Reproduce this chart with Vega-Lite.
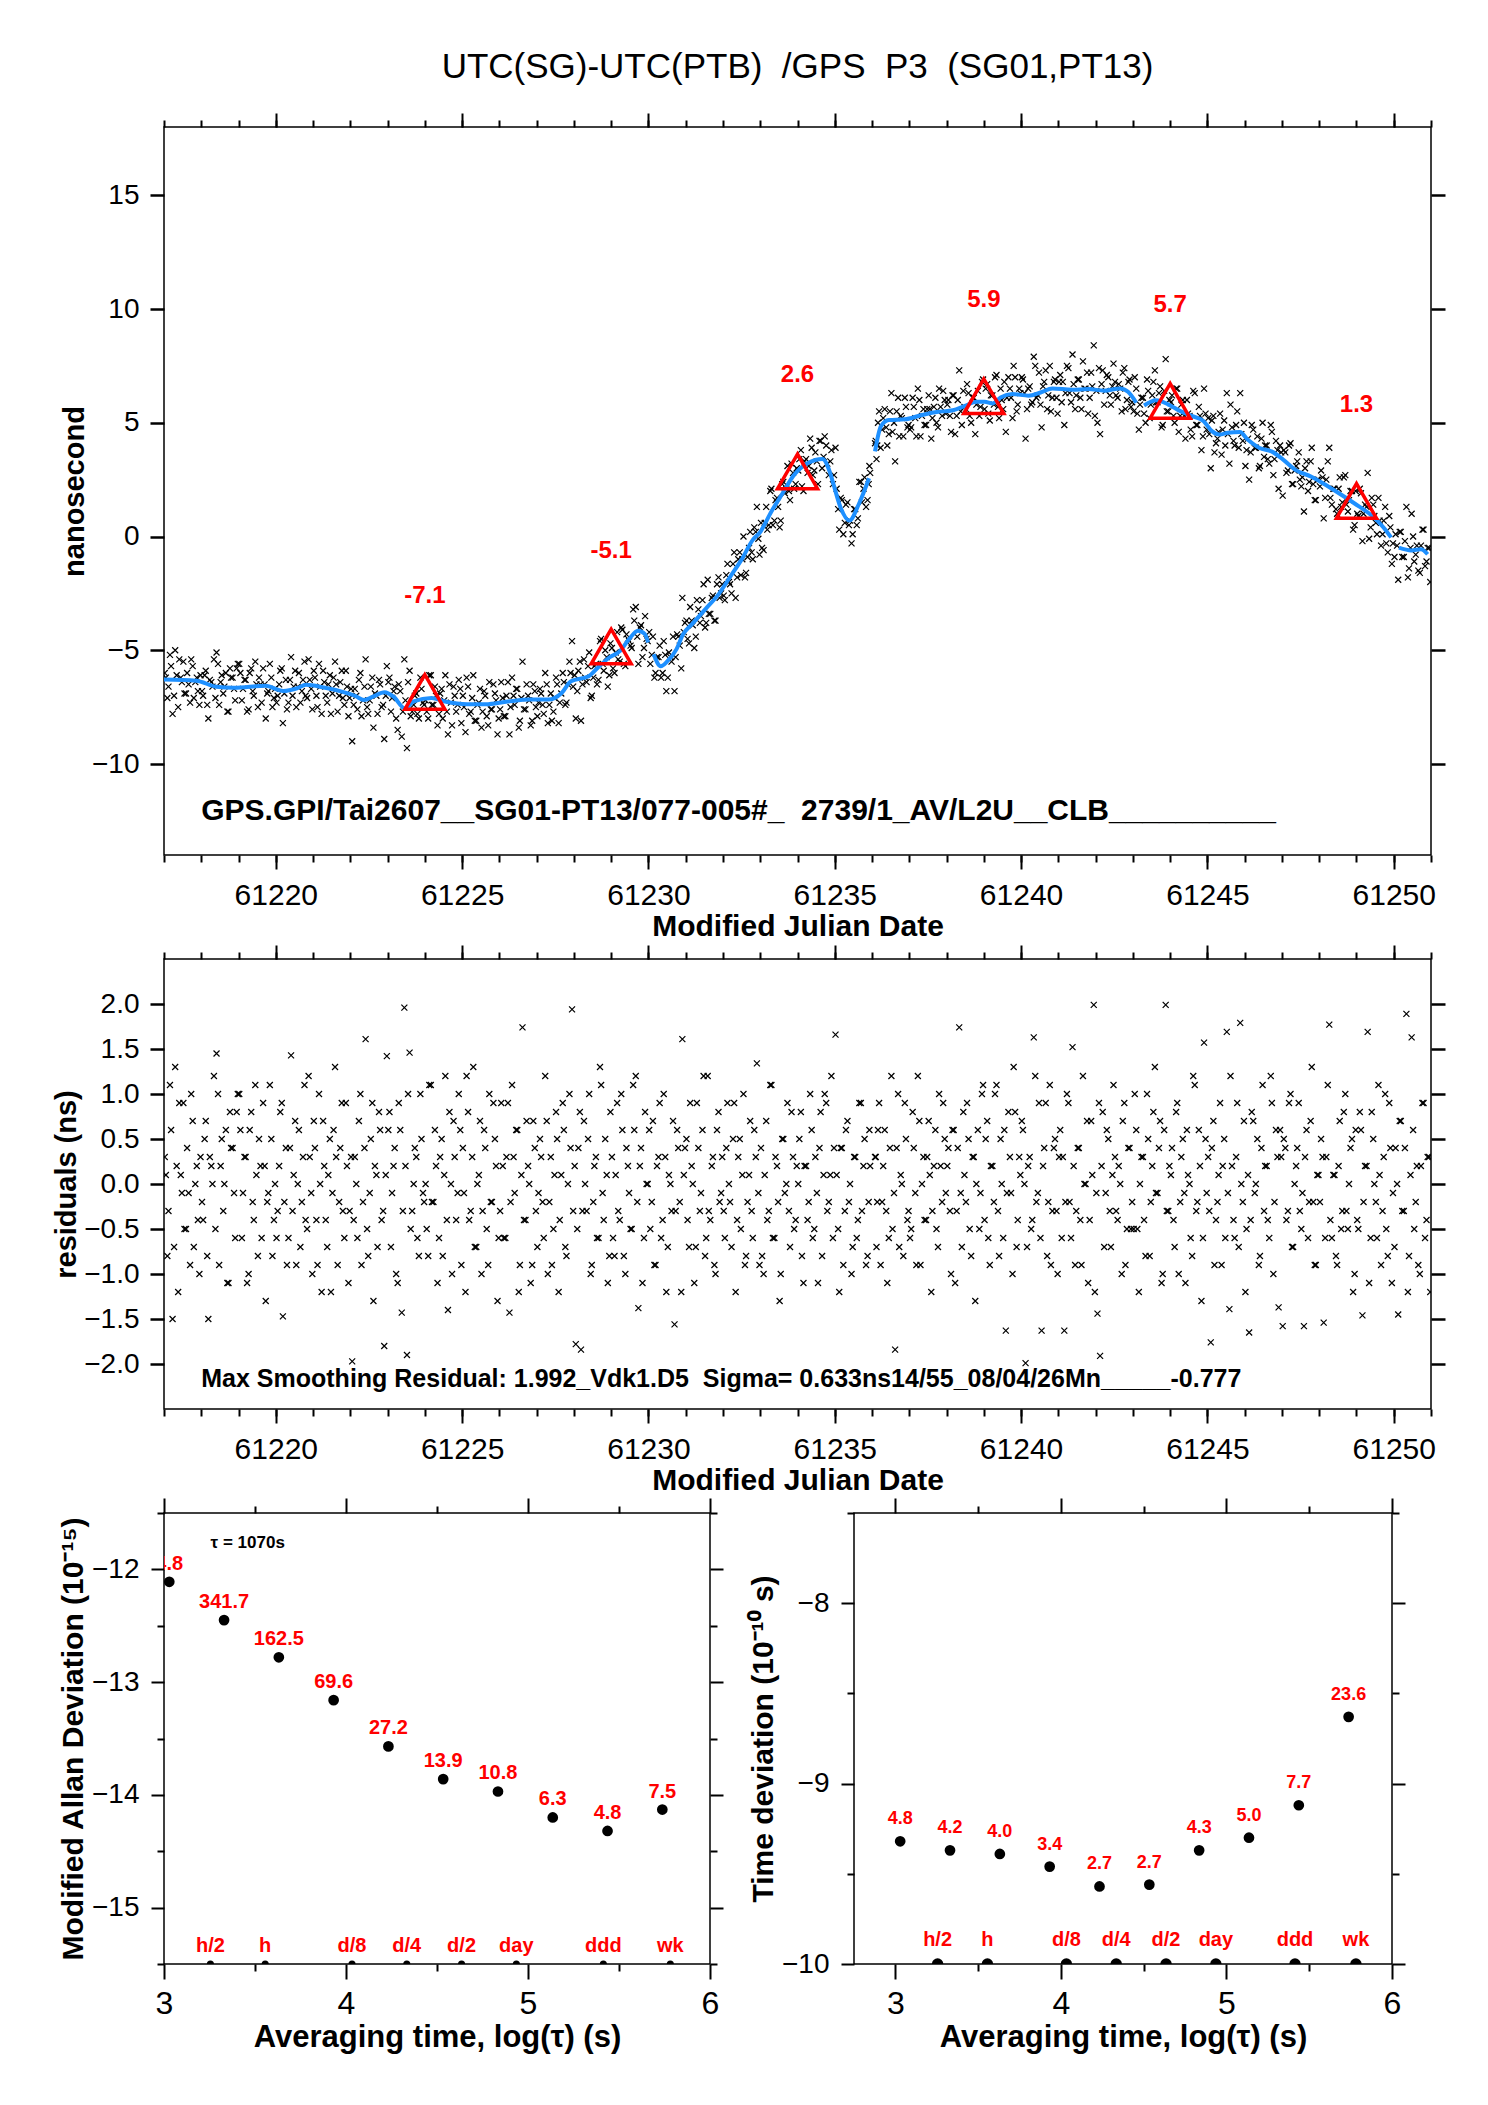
{
  "$schema": "https://vega.github.io/schema/vega-lite/v6.json",
  "background": "white",
  "padding": {"left": 51, "top": 49, "right": 10, "bottom": 10},
  "bounds": "flush",
  "spacing": 104,
  "config": {
    "font": "Liberation Sans",
    "view": {"stroke": "black", "strokeWidth": 1.5},
    "axis": {"grid": false, "domain": false, "tickColor": "black", "tickWidth": 2, "labelColor": "black", "labelFont": "Liberation Sans", "labelFontWeight": "normal", "titleFont": "Liberation Sans", "titleFontWeight": "bold", "titleColor": "black", "labelOverlap": false, "labelFlush": false, "labelBound": false},
    "title": {"font": "Liberation Sans", "color": "black"}
  },
  "datasets": {
    "pts": [
      {"t":61217.02,"v":-6.0,"r":0.3},{"t":61217.09,"v":-7.1,"r":-0.8},{"t":61217.16,"v":-5.2,"r":1.1},{"t":61217.23,"v":-7.8,"r":-1.5},{"t":61217.30,"v":-5.0,"r":1.3},{"t":61217.38,"v":-7.5,"r":-1.2},{"t":61217.45,"v":-6.2,"r":0.1},{"t":61217.52,"v":-5.5,"r":0.9},{"t":61217.59,"v":-6.9,"r":-0.5},{"t":61217.66,"v":-6.5,"r":-0.1},{"t":61217.73,"v":-5.4,"r":1.0},{"t":61217.80,"v":-7.1,"r":-0.7},{"t":61217.88,"v":-6.2,"r":0.2},{"t":61217.95,"v":-7.4,"r":-1.0},
      {"t":61218.05,"v":-7.0,"r":-0.4},{"t":61218.12,"v":-5.9,"r":0.7},{"t":61218.19,"v":-8.0,"r":-1.5},{"t":61218.27,"v":-6.4,"r":0.2},{"t":61218.34,"v":-5.4,"r":1.2},{"t":61218.41,"v":-5.1,"r":1.45},{"t":61218.48,"v":-7.4,"r":-0.9},{"t":61218.55,"v":-6.1,"r":0.5},{"t":61218.62,"v":-6.6,"r":0.0},{"t":61218.70,"v":-7.7,"r":-1.1},{"t":61218.77,"v":-5.8,"r":0.8},{"t":61218.84,"v":-6.2,"r":0.4},{"t":61218.91,"v":-7.2,"r":-0.6},{"t":61218.98,"v":-5.6,"r":1.0},
      {"t":61219.02,"v":-5.6,"r":1.0},{"t":61219.09,"v":-7.2,"r":-0.6},{"t":61219.16,"v":-6.3,"r":0.3},{"t":61219.23,"v":-7.7,"r":-1.1},{"t":61219.30,"v":-6.0,"r":0.6},{"t":61219.38,"v":-6.8,"r":-0.2},{"t":61219.45,"v":-5.5,"r":1.1},{"t":61219.52,"v":-7.5,"r":-0.8},{"t":61219.59,"v":-6.5,"r":0.2},{"t":61219.66,"v":-5.8,"r":0.9},{"t":61219.73,"v":-8.0,"r":-1.3},{"t":61219.80,"v":-6.8,"r":-0.1},{"t":61219.88,"v":-6.2,"r":0.5},{"t":61219.95,"v":-7.1,"r":-0.4},
      {"t":61220.05,"v":-7.0,"r":-0.3},{"t":61220.12,"v":-5.9,"r":0.8},{"t":61220.19,"v":-8.2,"r":-1.47},{"t":61220.27,"v":-6.3,"r":0.4},{"t":61220.34,"v":-7.3,"r":-0.6},{"t":61220.41,"v":-5.3,"r":1.43},{"t":61220.48,"v":-6.6,"r":0.1},{"t":61220.55,"v":-7.5,"r":-0.9},{"t":61220.62,"v":-6.0,"r":0.6},{"t":61220.70,"v":-6.8,"r":-0.2},{"t":61220.77,"v":-5.5,"r":1.1},{"t":61220.84,"v":-7.1,"r":-0.5},{"t":61220.91,"v":-6.3,"r":0.3},{"t":61220.98,"v":-7.6,"r":-1.0},
      {"t":61221.02,"v":-5.9,"r":0.7},{"t":61221.09,"v":-7.0,"r":-0.4},{"t":61221.16,"v":-5.6,"r":1.0},{"t":61221.23,"v":-7.8,"r":-1.2},{"t":61221.30,"v":-6.4,"r":0.2},{"t":61221.38,"v":-7.3,"r":-0.7},{"t":61221.45,"v":-6.1,"r":0.5},{"t":61221.52,"v":-6.9,"r":-0.1},{"t":61221.59,"v":-5.5,"r":1.3},{"t":61221.66,"v":-7.7,"r":-0.9},{"t":61221.73,"v":-6.4,"r":0.4},{"t":61221.80,"v":-7.1,"r":-0.3},{"t":61221.88,"v":-5.9,"r":0.9},{"t":61221.95,"v":-7.9,"r":-1.1},
      {"t":61222.05,"v":-9.0,"r":-1.97},{"t":61222.12,"v":-6.7,"r":0.3},{"t":61222.19,"v":-7.6,"r":-0.6},{"t":61222.27,"v":-6.0,"r":1.0},{"t":61222.34,"v":-7.2,"r":-0.2},{"t":61222.41,"v":-5.4,"r":1.61},{"t":61222.48,"v":-7.8,"r":-0.8},{"t":61222.55,"v":-6.6,"r":0.5},{"t":61222.62,"v":-8.4,"r":-1.3},{"t":61222.70,"v":-7.0,"r":0.1},{"t":61222.77,"v":-6.3,"r":0.8},{"t":61222.84,"v":-7.5,"r":-0.4},{"t":61222.91,"v":-8.9,"r":-1.8},{"t":61222.98,"v":-5.7,"r":1.42},
      {"t":61223.02,"v":-6.4,"r":0.6},{"t":61223.09,"v":-7.7,"r":-0.7},{"t":61223.16,"v":-6.8,"r":0.2},{"t":61223.23,"v":-8.0,"r":-1.0},{"t":61223.30,"v":-6.5,"r":0.9},{"t":61223.38,"v":-8.8,"r":-1.43},{"t":61223.45,"v":-5.4,"r":1.96},{"t":61223.52,"v":-9.3,"r":-1.9},{"t":61223.59,"v":-5.9,"r":1.46},{"t":61223.66,"v":-7.7,"r":-0.3},{"t":61223.73,"v":-7.0,"r":0.4},{"t":61223.80,"v":-7.8,"r":-0.6},{"t":61223.88,"v":-6.2,"r":1.0},{"t":61223.95,"v":-7.3,"r":-0.1},
      {"t":61224.05,"v":-7.7,"r":-0.5},{"t":61224.12,"v":-6.1,"r":1.1},{"t":61224.19,"v":-7.4,"r":-0.2},{"t":61224.27,"v":-6.6,"r":0.6},{"t":61224.34,"v":-8.3,"r":-1.1},{"t":61224.41,"v":-6.9,"r":0.3},{"t":61224.48,"v":-8.0,"r":-0.8},{"t":61224.55,"v":-6.1,"r":1.2},{"t":61224.62,"v":-8.7,"r":-1.4},{"t":61224.70,"v":-7.3,"r":0.0},{"t":61224.77,"v":-6.6,"r":0.7},{"t":61224.84,"v":-7.7,"r":-0.4},{"t":61224.91,"v":-6.3,"r":1.0},{"t":61224.98,"v":-8.2,"r":-0.9},
      {"t":61225.02,"v":-7.0,"r":0.4},{"t":61225.09,"v":-8.6,"r":-1.2},{"t":61225.16,"v":-6.6,"r":0.8},{"t":61225.23,"v":-7.7,"r":-0.3},{"t":61225.30,"v":-6.1,"r":1.3},{"t":61225.38,"v":-8.1,"r":-0.7},{"t":61225.45,"v":-7.3,"r":0.1},{"t":61225.52,"v":-8.4,"r":-1.0},{"t":61225.59,"v":-6.8,"r":0.6},{"t":61225.66,"v":-7.9,"r":-0.5},{"t":61225.73,"v":-6.4,"r":1.0},{"t":61225.80,"v":-7.6,"r":-0.2},{"t":61225.88,"v":-6.9,"r":0.5},{"t":61225.95,"v":-8.7,"r":-1.3},
      {"t":61226.05,"v":-6.4,"r":0.9},{"t":61226.12,"v":-7.9,"r":-0.6},{"t":61226.19,"v":-7.0,"r":0.3},{"t":61226.27,"v":-8.7,"r":-1.43},{"t":61226.34,"v":-6.2,"r":1.1},{"t":61226.41,"v":-7.4,"r":-0.1},{"t":61226.48,"v":-6.7,"r":0.6},{"t":61226.55,"v":-8.1,"r":-0.9},{"t":61226.62,"v":-5.5,"r":1.74},{"t":61226.70,"v":-7.6,"r":-0.4},{"t":61226.77,"v":-7.0,"r":0.2},{"t":61226.84,"v":-8.3,"r":-1.1},{"t":61226.91,"v":-6.5,"r":0.7},{"t":61226.98,"v":-7.5,"r":-0.3},
      {"t":61227.02,"v":-7.9,"r":-0.7},{"t":61227.09,"v":-6.7,"r":0.5},{"t":61227.16,"v":-7.4,"r":-0.2},{"t":61227.23,"v":-6.0,"r":1.2},{"t":61227.30,"v":-8.2,"r":-1.0},{"t":61227.38,"v":-6.9,"r":0.3},{"t":61227.45,"v":-7.7,"r":-0.5},{"t":61227.52,"v":-6.2,"r":0.8},{"t":61227.59,"v":-8.2,"r":-1.2},{"t":61227.66,"v":-6.9,"r":0.1},{"t":61227.73,"v":-6.4,"r":0.6},{"t":61227.80,"v":-7.3,"r":-0.8},{"t":61227.88,"v":-5.5,"r":1.0},{"t":61227.95,"v":-4.6,"r":1.94},
      {"t":61228.05,"v":-8.0,"r":-1.78},{"t":61228.12,"v":-5.9,"r":0.4},{"t":61228.19,"v":-8.1,"r":-1.84},{"t":61228.27,"v":-5.4,"r":0.7},{"t":61228.34,"v":-6.4,"r":-0.3},{"t":61228.41,"v":-5.1,"r":1.0},{"t":61228.48,"v":-7.0,"r":-0.9},{"t":61228.55,"v":-5.7,"r":0.2},{"t":61228.62,"v":-6.5,"r":-0.6},{"t":61228.70,"v":-4.6,"r":1.3},{"t":61228.77,"v":-5.6,"r":-0.1},{"t":61228.84,"v":-5.0,"r":0.5},{"t":61228.91,"v":-6.6,"r":-1.1},{"t":61228.98,"v":-4.7,"r":0.8},
      {"t":61229.02,"v":-4.9,"r":0.3},{"t":61229.09,"v":-6.0,"r":-0.8},{"t":61229.16,"v":-4.2,"r":0.9},{"t":61229.23,"v":-5.5,"r":-0.4},{"t":61229.30,"v":-4.1,"r":0.6},{"t":61229.38,"v":-5.7,"r":-1.0},{"t":61229.45,"v":-4.5,"r":0.2},{"t":61229.52,"v":-4.8,"r":-0.5},{"t":61229.59,"v":-3.2,"r":1.1},{"t":61229.66,"v":-3.1,"r":1.2},{"t":61229.73,"v":-5.6,"r":-1.38},{"t":61229.80,"v":-3.9,"r":0.4},{"t":61229.88,"v":-4.9,"r":-0.6},{"t":61229.95,"v":-4.5,"r":0.0},
      {"t":61230.05,"v":-5.6,"r":-0.5},{"t":61230.12,"v":-4.4,"r":0.7},{"t":61230.19,"v":-6.0,"r":-0.9},{"t":61230.27,"v":-5.3,"r":0.3},{"t":61230.34,"v":-6.2,"r":-0.6},{"t":61230.41,"v":-4.6,"r":1.0},{"t":61230.48,"v":-6.8,"r":-1.2},{"t":61230.55,"v":-5.1,"r":0.1},{"t":61230.62,"v":-5.5,"r":-0.3},{"t":61230.70,"v":-6.8,"r":-1.56},{"t":61230.77,"v":-4.3,"r":0.6},{"t":61230.84,"v":-4.8,"r":-0.2},{"t":61230.91,"v":-2.7,"r":1.61},{"t":61230.98,"v":-3.8,"r":0.4},
      {"t":61231.02,"v":-3.7,"r":0.5},{"t":61231.09,"v":-4.7,"r":-0.7},{"t":61231.16,"v":-3.7,"r":0.2},{"t":61231.23,"v":-4.9,"r":-1.1},{"t":61231.30,"v":-2.8,"r":0.9},{"t":61231.38,"v":-3.8,"r":-0.3},{"t":61231.45,"v":-2.8,"r":0.6},{"t":61231.52,"v":-4.0,"r":-0.8},{"t":61231.59,"v":-1.9,"r":1.2},{"t":61231.66,"v":-3.4,"r":-0.4},{"t":61231.73,"v":-2.6,"r":0.3},{"t":61231.80,"v":-3.7,"r":-1.0},{"t":61231.88,"v":-1.8,"r":0.8},{"t":61231.95,"v":-2.5,"r":-0.1},
      {"t":61232.05,"v":-2.8,"r":-0.6},{"t":61232.12,"v":-1.2,"r":0.9},{"t":61232.19,"v":-2.1,"r":-0.2},{"t":61232.27,"v":-1.2,"r":0.5},{"t":61232.34,"v":-2.7,"r":-1.2},{"t":61232.41,"v":-1.0,"r":0.3},{"t":61232.48,"v":-1.7,"r":-0.5},{"t":61232.55,"v":0.0,"r":1.0},{"t":61232.62,"v":-1.6,"r":-0.8},{"t":61232.70,"v":-0.5,"r":0.1},{"t":61232.77,"v":-0.7,"r":-0.3},{"t":61232.84,"v":0.4,"r":0.6},{"t":61232.91,"v":1.3,"r":1.34},{"t":61232.98,"v":-0.8,"r":-0.9},
      {"t":61233.02,"v":0.6,"r":0.4},{"t":61233.09,"v":-0.6,"r":-1.0},{"t":61233.16,"v":1.3,"r":0.7},{"t":61233.23,"v":0.5,"r":-0.3},{"t":61233.30,"v":2.1,"r":1.1},{"t":61233.38,"v":0.7,"r":-0.6},{"t":61233.45,"v":1.7,"r":0.2},{"t":61233.52,"v":0.4,"r":-1.3},{"t":61233.59,"v":2.3,"r":0.5},{"t":61233.66,"v":1.9,"r":-0.1},{"t":61233.73,"v":3.1,"r":0.9},{"t":61233.80,"v":1.6,"r":-0.7},{"t":61233.88,"v":2.8,"r":0.3},{"t":61233.95,"v":2.3,"r":-0.4},
      {"t":61234.05,"v":3.4,"r":0.5},{"t":61234.12,"v":2.2,"r":-0.8},{"t":61234.19,"v":3.3,"r":0.2},{"t":61234.27,"v":2.8,"r":-0.4},{"t":61234.34,"v":4.3,"r":1.0},{"t":61234.41,"v":2.7,"r":-0.6},{"t":61234.48,"v":3.7,"r":0.3},{"t":61234.55,"v":2.3,"r":-1.1},{"t":61234.62,"v":4.2,"r":0.8},{"t":61234.70,"v":3.5,"r":0.1},{"t":61234.77,"v":4.0,"r":0.9},{"t":61234.84,"v":2.7,"r":-0.2},{"t":61234.91,"v":3.8,"r":1.2},{"t":61234.98,"v":2.7,"r":0.4},
      {"t":61235.02,"v":3.9,"r":1.66},{"t":61235.09,"v":1.2,"r":-0.5},{"t":61235.16,"v":1.7,"r":0.4},{"t":61235.23,"v":0.1,"r":-0.9},{"t":61235.30,"v":1.4,"r":0.6},{"t":61235.38,"v":0.5,"r":-0.2},{"t":61235.45,"v":-0.3,"r":-1.0},{"t":61235.52,"v":1.2,"r":0.3},{"t":61235.59,"v":0.5,"r":-0.6},{"t":61235.66,"v":2.4,"r":0.9},{"t":61235.73,"v":1.5,"r":-0.3},{"t":61235.80,"v":2.6,"r":0.5},{"t":61235.88,"v":1.6,"r":-0.8},{"t":61235.95,"v":2.8,"r":0.2},
      {"t":61236.08,"v":4.1,"r":0.3},{"t":61236.12,"v":3.4,"r":-0.7},{"t":61236.19,"v":5.5,"r":0.9},{"t":61236.27,"v":4.7,"r":-0.2},{"t":61236.34,"v":5.6,"r":0.6},{"t":61236.41,"v":4.0,"r":-1.1},{"t":61236.48,"v":5.5,"r":0.4},{"t":61236.55,"v":4.6,"r":-0.5},{"t":61236.62,"v":3.3,"r":-1.84},{"t":61236.70,"v":6.1,"r":1.0},{"t":61236.77,"v":5.3,"r":0.1},{"t":61236.84,"v":4.4,"r":-0.8},{"t":61236.91,"v":5.7,"r":0.5},{"t":61236.98,"v":4.9,"r":-0.3},
      {"t":61237.02,"v":4.7,"r":-0.6},{"t":61237.09,"v":6.1,"r":0.8},{"t":61237.16,"v":5.2,"r":-0.1},{"t":61237.23,"v":6.5,"r":1.2},{"t":61237.30,"v":4.4,"r":-0.9},{"t":61237.38,"v":5.6,"r":0.3},{"t":61237.45,"v":4.9,"r":-0.4},{"t":61237.52,"v":6.2,"r":0.7},{"t":61237.59,"v":4.3,"r":-1.2},{"t":61237.66,"v":5.7,"r":0.2},{"t":61237.73,"v":5.0,"r":-0.5},{"t":61237.80,"v":6.5,"r":1.0},{"t":61237.88,"v":5.3,"r":-0.2},{"t":61237.95,"v":6.0,"r":0.5},
      {"t":61238.05,"v":6.0,"r":0.4},{"t":61238.12,"v":4.6,"r":-1.0},{"t":61238.19,"v":6.2,"r":0.6},{"t":61238.27,"v":5.3,"r":-0.3},{"t":61238.34,"v":7.3,"r":1.74},{"t":61238.41,"v":4.9,"r":-0.7},{"t":61238.48,"v":5.7,"r":0.1},{"t":61238.55,"v":6.7,"r":0.9},{"t":61238.62,"v":5.3,"r":-0.5},{"t":61238.70,"v":6.1,"r":0.3},{"t":61238.77,"v":4.5,"r":-1.3},{"t":61238.84,"v":6.4,"r":0.6},{"t":61238.91,"v":5.7,"r":-0.1},{"t":61238.98,"v":6.9,"r":1.1},
      {"t":61239.02,"v":5.6,"r":-0.4},{"t":61239.09,"v":6.7,"r":0.7},{"t":61239.16,"v":5.1,"r":-0.9},{"t":61239.23,"v":6.2,"r":0.2},{"t":61239.30,"v":7.0,"r":1.0},{"t":61239.38,"v":5.7,"r":-0.3},{"t":61239.45,"v":6.5,"r":0.5},{"t":61239.52,"v":5.6,"r":-0.6},{"t":61239.59,"v":4.6,"r":-1.63},{"t":61239.66,"v":7.0,"r":0.8},{"t":61239.73,"v":6.1,"r":-0.1},{"t":61239.80,"v":7.5,"r":1.3},{"t":61239.88,"v":5.5,"r":-0.7},{"t":61239.95,"v":6.5,"r":0.3},
      {"t":61240.05,"v":6.9,"r":0.6},{"t":61240.12,"v":4.3,"r":-1.99},{"t":61240.19,"v":6.5,"r":0.2},{"t":61240.27,"v":5.8,"r":-0.5},{"t":61240.34,"v":7.9,"r":1.63},{"t":61240.41,"v":6.1,"r":-0.2},{"t":61240.48,"v":7.2,"r":0.9},{"t":61240.55,"v":4.8,"r":-1.63},{"t":61240.62,"v":6.8,"r":0.4},{"t":61240.70,"v":5.6,"r":-0.8},{"t":61240.77,"v":7.5,"r":1.1},{"t":61240.84,"v":6.1,"r":-0.3},{"t":61240.91,"v":6.9,"r":0.5},{"t":61240.98,"v":5.4,"r":-1.0},
      {"t":61241.02,"v":6.8,"r":0.3},{"t":61241.09,"v":5.9,"r":-0.6},{"t":61241.16,"v":4.9,"r":-1.63},{"t":61241.23,"v":7.5,"r":1.0},{"t":61241.30,"v":6.3,"r":-0.2},{"t":61241.38,"v":8.0,"r":1.52},{"t":61241.45,"v":5.6,"r":-0.9},{"t":61241.52,"v":6.9,"r":0.4},{"t":61241.59,"v":6.1,"r":-0.4},{"t":61241.66,"v":7.7,"r":1.2},{"t":61241.73,"v":6.5,"r":0.0},{"t":61241.80,"v":5.4,"r":-1.1},{"t":61241.88,"v":7.2,"r":0.7},{"t":61241.95,"v":8.4,"r":1.99},
      {"t":61242.05,"v":5.0,"r":-1.44},{"t":61242.12,"v":4.5,"r":-1.91},{"t":61242.19,"v":7.3,"r":0.8},{"t":61242.27,"v":6.4,"r":-0.1},{"t":61242.34,"v":7.0,"r":0.5},{"t":61242.41,"v":5.8,"r":-0.7},{"t":61242.48,"v":7.6,"r":1.1},{"t":61242.55,"v":6.2,"r":-0.3},{"t":61242.62,"v":6.7,"r":0.2},{"t":61242.70,"v":5.5,"r":-1.0},{"t":61242.77,"v":7.4,"r":0.9},{"t":61242.84,"v":6.0,"r":-0.5},{"t":61242.91,"v":6.9,"r":0.4},{"t":61242.98,"v":5.9,"r":-0.2},
      {"t":61243.02,"v":5.5,"r":-0.5},{"t":61243.09,"v":6.5,"r":0.6},{"t":61243.16,"v":4.7,"r":-1.2},{"t":61243.23,"v":6.1,"r":0.3},{"t":61243.30,"v":5.4,"r":-0.4},{"t":61243.38,"v":6.9,"r":1.0},{"t":61243.45,"v":5.2,"r":-0.8},{"t":61243.52,"v":6.2,"r":0.2},{"t":61243.59,"v":7.3,"r":1.3},{"t":61243.66,"v":5.9,"r":-0.1},{"t":61243.73,"v":6.6,"r":0.7},{"t":61243.80,"v":4.9,"r":-1.0},{"t":61243.88,"v":7.8,"r":1.99},{"t":61243.95,"v":5.5,"r":-0.3},
      {"t":61244.05,"v":6.2,"r":0.4},{"t":61244.12,"v":5.0,"r":-0.7},{"t":61244.19,"v":6.5,"r":0.9},{"t":61244.27,"v":5.3,"r":-0.2},{"t":61244.34,"v":6.0,"r":0.5},{"t":61244.41,"v":4.3,"r":-1.1},{"t":61244.48,"v":5.4,"r":0.1},{"t":61244.55,"v":4.7,"r":-0.6},{"t":61244.62,"v":6.4,"r":1.2},{"t":61244.70,"v":4.9,"r":-0.3},{"t":61244.77,"v":5.7,"r":0.6},{"t":61244.84,"v":3.8,"r":-1.3},{"t":61244.91,"v":6.5,"r":1.57},{"t":61244.98,"v":4.7,"r":-0.1},
      {"t":61245.02,"v":5.2,"r":0.3},{"t":61245.09,"v":3.0,"r":-1.76},{"t":61245.16,"v":5.3,"r":0.7},{"t":61245.23,"v":4.1,"r":-0.4},{"t":61245.30,"v":4.6,"r":0.1},{"t":61245.38,"v":3.6,"r":-0.9},{"t":61245.45,"v":5.1,"r":0.5},{"t":61245.52,"v":6.3,"r":1.69},{"t":61245.59,"v":3.2,"r":-1.39},{"t":61245.66,"v":4.8,"r":0.2},{"t":61245.73,"v":4.0,"r":-0.6},{"t":61245.80,"v":5.5,"r":0.9},{"t":61245.88,"v":6.3,"r":1.79},{"t":61245.95,"v":4.2,"r":-0.2},
      {"t":61246.05,"v":3.8,"r":-0.5},{"t":61246.12,"v":2.5,"r":-1.65},{"t":61246.19,"v":4.9,"r":0.8},{"t":61246.27,"v":3.9,"r":-0.1},{"t":61246.34,"v":4.4,"r":0.5},{"t":61246.41,"v":3.1,"r":-0.8},{"t":61246.48,"v":5.0,"r":1.1},{"t":61246.55,"v":4.0,"r":0.2},{"t":61246.62,"v":3.4,"r":-0.4},{"t":61246.70,"v":4.9,"r":1.2},{"t":61246.77,"v":2.7,"r":-1.0},{"t":61246.84,"v":4.2,"r":0.6},{"t":61246.91,"v":2.1,"r":-1.37},{"t":61246.98,"v":3.7,"r":0.3},
      {"t":61247.02,"v":1.8,"r":-1.58},{"t":61247.09,"v":3.7,"r":0.4},{"t":61247.16,"v":2.9,"r":-0.3},{"t":61247.23,"v":4.1,"r":1.0},{"t":61247.30,"v":2.3,"r":-0.7},{"t":61247.38,"v":3.1,"r":0.2},{"t":61247.45,"v":3.7,"r":0.9},{"t":61247.52,"v":2.2,"r":-0.5},{"t":61247.59,"v":1.1,"r":-1.58},{"t":61247.66,"v":3.3,"r":0.6},{"t":61247.73,"v":2.4,"r":-0.2},{"t":61247.80,"v":3.9,"r":1.3},{"t":61247.88,"v":1.6,"r":-0.9},{"t":61247.95,"v":2.5,"r":0.1},
      {"t":61248.05,"v":2.9,"r":0.5},{"t":61248.12,"v":0.8,"r":-1.54},{"t":61248.19,"v":2.5,"r":0.3},{"t":61248.27,"v":3.9,"r":1.77},{"t":61248.34,"v":1.4,"r":-0.6},{"t":61248.41,"v":2.1,"r":0.1},{"t":61248.48,"v":1.0,"r":-0.9},{"t":61248.55,"v":2.6,"r":0.7},{"t":61248.62,"v":1.5,"r":-0.3},{"t":61248.70,"v":2.7,"r":1.0},{"t":61248.77,"v":1.1,"r":-0.5},{"t":61248.84,"v":2.0,"r":0.4},{"t":61248.91,"v":0.3,"r":-1.2},{"t":61248.98,"v":2.0,"r":0.6},
      {"t":61249.02,"v":1.0,"r":-0.4},{"t":61249.09,"v":2.1,"r":0.8},{"t":61249.16,"v":-0.2,"r":-1.46},{"t":61249.23,"v":1.4,"r":0.2},{"t":61249.30,"v":2.8,"r":1.69},{"t":61249.38,"v":0.4,"r":-0.6},{"t":61249.45,"v":1.4,"r":0.5},{"t":61249.52,"v":0.6,"r":-0.2},{"t":61249.59,"v":1.7,"r":1.1},{"t":61249.66,"v":-0.4,"r":-0.9},{"t":61249.73,"v":0.7,"r":0.3},{"t":61249.80,"v":-0.3,"r":-0.5},{"t":61249.88,"v":0.9,"r":0.9},{"t":61249.95,"v":-1.2,"r":-1.1},
      {"t":61250.05,"v":0.1,"r":0.4},{"t":61250.12,"v":-1.9,"r":-1.45},{"t":61250.19,"v":0.2,"r":0.7},{"t":61250.27,"v":-0.9,"r":-0.3},{"t":61250.34,"v":1.3,"r":1.89},{"t":61250.41,"v":-1.4,"r":-0.8},{"t":61250.48,"v":1.0,"r":1.63},{"t":61250.55,"v":-1.1,"r":-0.5},{"t":61250.62,"v":-0.4,"r":0.2},{"t":61250.70,"v":-1.6,"r":-1.0},{"t":61250.77,"v":0.3,"r":0.9},{"t":61250.84,"v":-1.3,"r":-0.6},{"t":61250.91,"v":-0.5,"r":0.3},{"t":61250.98,"v":-2.0,"r":-1.2},
      {"t":61217.05,"v":-6.2,"r":0.1},{"t":61217.12,"v":-6.6,"r":-0.3},{"t":61217.19,"v":-5.7,"r":0.6},{"t":61217.27,"v":-7.0,"r":-0.7},{"t":61217.34,"v":-6.1,"r":0.2},{"t":61217.41,"v":-5.4,"r":0.9},{"t":61217.48,"v":-6.4,"r":-0.1},{"t":61217.55,"v":-6.9,"r":-0.5},{"t":61217.62,"v":-6.0,"r":0.4},{"t":61217.70,"v":-7.3,"r":-0.9},{"t":61217.77,"v":-5.7,"r":0.7},{"t":61217.84,"v":-6.4,"r":0.0},{"t":61217.91,"v":-6.8,"r":-0.4},{"t":61217.98,"v":-6.1,"r":0.3},
      {"t":61218.02,"v":-6.8,"r":-0.2},{"t":61218.09,"v":-6.1,"r":0.5},{"t":61218.16,"v":-7.4,"r":-0.8},{"t":61218.23,"v":-6.3,"r":0.3},{"t":61218.30,"v":-6.6,"r":0.0},{"t":61218.38,"v":-7.1,"r":-0.5},{"t":61218.45,"v":-5.6,"r":1.0},{"t":61218.52,"v":-6.4,"r":0.2},{"t":61218.59,"v":-6.9,"r":-0.3},{"t":61218.66,"v":-6.0,"r":0.6},{"t":61218.73,"v":-7.7,"r":-1.1},{"t":61218.80,"v":-6.2,"r":0.4},{"t":61218.88,"v":-6.7,"r":-0.1},{"t":61218.95,"v":-5.8,"r":0.8},
      {"t":61219.05,"v":-6.0,"r":0.6},{"t":61219.12,"v":-6.7,"r":-0.1},{"t":61219.19,"v":-6.3,"r":0.3},{"t":61219.27,"v":-7.6,"r":-1.0},{"t":61219.34,"v":-5.8,"r":0.8},{"t":61219.41,"v":-7.0,"r":-0.4},{"t":61219.48,"v":-6.5,"r":0.1},{"t":61219.55,"v":-6.2,"r":0.5},{"t":61219.62,"v":-7.3,"r":-0.6},{"t":61219.70,"v":-6.5,"r":0.2},{"t":61219.77,"v":-6.9,"r":-0.2},{"t":61219.84,"v":-5.6,"r":1.1},{"t":61219.91,"v":-7.5,"r":-0.8},{"t":61219.98,"v":-6.7,"r":0.0},
      {"t":61220.02,"v":-7.3,"r":-0.6},{"t":61220.09,"v":-6.5,"r":0.2},{"t":61220.16,"v":-5.8,"r":0.9},{"t":61220.23,"v":-6.9,"r":-0.2},{"t":61220.30,"v":-7.6,"r":-0.9},{"t":61220.38,"v":-6.3,"r":0.4},{"t":61220.45,"v":-7.0,"r":-0.3},{"t":61220.52,"v":-5.9,"r":0.7},{"t":61220.59,"v":-6.6,"r":0.0},{"t":61220.66,"v":-7.3,"r":-0.7},{"t":61220.73,"v":-6.3,"r":0.3},{"t":61220.80,"v":-7.0,"r":-0.4},{"t":61220.88,"v":-5.4,"r":1.2},{"t":61220.95,"v":-6.7,"r":-0.1},
      {"t":61221.05,"v":-6.2,"r":0.4},{"t":61221.12,"v":-7.5,"r":-0.9},{"t":61221.19,"v":-6.6,"r":0.0},{"t":61221.27,"v":-5.9,"r":0.7},{"t":61221.34,"v":-7.0,"r":-0.4},{"t":61221.41,"v":-6.5,"r":0.1},{"t":61221.48,"v":-7.8,"r":-1.2},{"t":61221.55,"v":-6.2,"r":0.6},{"t":61221.62,"v":-6.5,"r":0.3},{"t":61221.70,"v":-7.0,"r":-0.2},{"t":61221.77,"v":-5.9,"r":0.9},{"t":61221.84,"v":-7.4,"r":-0.6},{"t":61221.91,"v":-6.6,"r":0.2},{"t":61221.98,"v":-7.1,"r":-0.3},
      {"t":61222.02,"v":-6.7,"r":0.3},{"t":61222.09,"v":-7.4,"r":-0.4},{"t":61222.16,"v":-7.0,"r":0.0},{"t":61222.23,"v":-6.3,"r":0.7},{"t":61222.30,"v":-7.9,"r":-0.9},{"t":61222.38,"v":-6.6,"r":0.4},{"t":61222.45,"v":-7.5,"r":-0.5},{"t":61222.52,"v":-7.2,"r":-0.1},{"t":61222.59,"v":-6.2,"r":0.9},{"t":61222.66,"v":-6.9,"r":0.2},{"t":61222.73,"v":-7.8,"r":-0.7},{"t":61222.80,"v":-6.5,"r":0.6},{"t":61222.88,"v":-7.4,"r":-0.3},{"t":61222.95,"v":-7.0,"r":0.1},
      {"t":61223.05,"v":-6.2,"r":0.8},{"t":61223.12,"v":-7.1,"r":-0.1},{"t":61223.19,"v":-6.6,"r":0.4},{"t":61223.27,"v":-8.5,"r":-1.1},{"t":61223.34,"v":-6.8,"r":0.6},{"t":61223.41,"v":-7.7,"r":-0.3},{"t":61223.48,"v":-7.2,"r":0.2},{"t":61223.55,"v":-6.4,"r":1.0},{"t":61223.62,"v":-7.9,"r":-0.5},{"t":61223.70,"v":-7.4,"r":0.0},{"t":61223.77,"v":-6.9,"r":0.3},{"t":61223.84,"v":-8.0,"r":-0.8},{"t":61223.91,"v":-6.7,"r":0.5},{"t":61223.98,"v":-7.4,"r":-0.2},
      {"t":61224.02,"v":-7.2,"r":0.0},{"t":61224.09,"v":-8.0,"r":-0.8},{"t":61224.16,"v":-6.1,"r":1.1},{"t":61224.23,"v":-7.4,"r":-0.2},{"t":61224.30,"v":-7.0,"r":0.2},{"t":61224.38,"v":-7.8,"r":-0.6},{"t":61224.45,"v":-6.7,"r":0.5},{"t":61224.52,"v":-7.2,"r":0.1},{"t":61224.59,"v":-7.7,"r":-0.4},{"t":61224.66,"v":-6.5,"r":0.8},{"t":61224.73,"v":-8.3,"r":-1.0},{"t":61224.80,"v":-7.0,"r":0.3},{"t":61224.88,"v":-7.4,"r":-0.1},{"t":61224.95,"v":-6.7,"r":0.6},
      {"t":61225.05,"v":-7.5,"r":-0.1},{"t":61225.12,"v":-6.2,"r":1.2},{"t":61225.19,"v":-7.8,"r":-0.4},{"t":61225.27,"v":-7.1,"r":0.3},{"t":61225.34,"v":-8.1,"r":-0.7},{"t":61225.41,"v":-7.4,"r":0.0},{"t":61225.48,"v":-6.7,"r":0.7},{"t":61225.55,"v":-7.7,"r":-0.3},{"t":61225.62,"v":-7.0,"r":0.4},{"t":61225.70,"v":-8.3,"r":-0.9},{"t":61225.77,"v":-7.6,"r":-0.2},{"t":61225.84,"v":-6.5,"r":0.9},{"t":61225.91,"v":-7.2,"r":0.2},{"t":61225.98,"v":-8.0,"r":-0.6},
      {"t":61226.02,"v":-7.6,"r":-0.3},{"t":61226.09,"v":-7.1,"r":0.2},{"t":61226.16,"v":-7.9,"r":-0.6},{"t":61226.23,"v":-6.4,"r":0.9},{"t":61226.30,"v":-7.5,"r":-0.2},{"t":61226.38,"v":-7.0,"r":0.3},{"t":61226.45,"v":-6.7,"r":0.6},{"t":61226.52,"v":-8.4,"r":-1.2},{"t":61226.59,"v":-7.1,"r":0.1},{"t":61226.66,"v":-7.6,"r":-0.4},{"t":61226.73,"v":-6.5,"r":0.7},{"t":61226.80,"v":-7.2,"r":0.0},{"t":61226.88,"v":-8.1,"r":-0.9},{"t":61226.95,"v":-6.8,"r":0.4},
      {"t":61227.05,"v":-7.3,"r":-0.1},{"t":61227.12,"v":-6.9,"r":0.3},{"t":61227.19,"v":-7.8,"r":-0.6},{"t":61227.27,"v":-6.5,"r":0.7},{"t":61227.34,"v":-7.4,"r":-0.2},{"t":61227.41,"v":-8.1,"r":-0.9},{"t":61227.48,"v":-7.1,"r":0.1},{"t":61227.55,"v":-6.5,"r":0.5},{"t":61227.62,"v":-7.3,"r":-0.4},{"t":61227.70,"v":-6.0,"r":0.9},{"t":61227.77,"v":-7.4,"r":-0.7},{"t":61227.84,"v":-6.5,"r":0.0},{"t":61227.91,"v":-6.0,"r":0.4},{"t":61227.98,"v":-6.6,"r":-0.3},
      {"t":61228.02,"v":-6.1,"r":0.2},{"t":61228.09,"v":-6.8,"r":-0.5},{"t":61228.16,"v":-5.5,"r":0.8},{"t":61228.23,"v":-6.5,"r":-0.3},{"t":61228.30,"v":-6.2,"r":0.0},{"t":61228.38,"v":-5.7,"r":0.5},{"t":61228.45,"v":-7.1,"r":-1.0},{"t":61228.52,"v":-6.2,"r":-0.2},{"t":61228.59,"v":-5.6,"r":0.3},{"t":61228.66,"v":-6.3,"r":-0.6},{"t":61228.73,"v":-4.5,"r":1.1},{"t":61228.80,"v":-5.9,"r":-0.4},{"t":61228.88,"v":-5.3,"r":0.1},{"t":61228.95,"v":-6.1,"r":-0.8},
      {"t":61229.05,"v":-5.8,"r":-0.6},{"t":61229.12,"v":-5.1,"r":0.1},{"t":61229.19,"v":-5.4,"r":-0.3},{"t":61229.27,"v":-4.0,"r":1.0},{"t":61229.34,"v":-5.6,"r":-0.8},{"t":61229.41,"v":-4.3,"r":0.4},{"t":61229.48,"v":-4.6,"r":-0.1},{"t":61229.55,"v":-4.9,"r":-0.5},{"t":61229.62,"v":-3.7,"r":0.6},{"t":61229.70,"v":-4.4,"r":-0.2},{"t":61229.77,"v":-4.0,"r":0.2},{"t":61229.84,"v":-5.3,"r":-1.1},{"t":61229.91,"v":-3.5,"r":0.8},{"t":61229.98,"v":-4.6,"r":0.0},
      {"t":61230.02,"v":-4.2,"r":0.6},{"t":61230.09,"v":-5.2,"r":-0.2},{"t":61230.16,"v":-6.2,"r":-0.9},{"t":61230.23,"v":-5.3,"r":0.2},{"t":61230.30,"v":-4.8,"r":0.9},{"t":61230.38,"v":-6.0,"r":-0.4},{"t":61230.45,"v":-5.2,"r":0.3},{"t":61230.52,"v":-6.2,"r":-0.7},{"t":61230.59,"v":-5.3,"r":0.0},{"t":61230.66,"v":-4.4,"r":0.7},{"t":61230.73,"v":-5.3,"r":-0.3},{"t":61230.80,"v":-4.4,"r":0.4},{"t":61230.88,"v":-5.8,"r":-1.2},{"t":61230.95,"v":-4.2,"r":0.1},
      {"t":61231.05,"v":-4.5,"r":-0.4},{"t":61231.12,"v":-3.1,"r":0.9},{"t":61231.19,"v":-3.9,"r":0.0},{"t":61231.27,"v":-4.4,"r":-0.7},{"t":61231.34,"v":-3.2,"r":0.4},{"t":61231.41,"v":-3.5,"r":-0.1},{"t":61231.48,"v":-2.1,"r":1.2},{"t":61231.55,"v":-3.8,"r":-0.6},{"t":61231.62,"v":-3.4,"r":-0.3},{"t":61231.70,"v":-2.7,"r":0.2},{"t":61231.77,"v":-3.7,"r":-0.9},{"t":61231.84,"v":-2.1,"r":0.6},{"t":61231.91,"v":-2.7,"r":-0.2},{"t":61231.98,"v":-2.1,"r":0.3},
      {"t":61232.02,"v":-2.6,"r":-0.3},{"t":61232.09,"v":-1.7,"r":0.4},{"t":61232.16,"v":-2.0,"r":0.0},{"t":61232.23,"v":-2.5,"r":-0.7},{"t":61232.30,"v":-0.7,"r":0.9},{"t":61232.38,"v":-1.8,"r":-0.4},{"t":61232.45,"v":-0.7,"r":0.5},{"t":61232.52,"v":-1.0,"r":0.1},{"t":61232.59,"v":-1.8,"r":-0.9},{"t":61232.66,"v":-0.9,"r":-0.2},{"t":61232.73,"v":0.2,"r":0.7},{"t":61232.80,"v":-1.0,"r":-0.6},{"t":61232.88,"v":0.2,"r":0.3},{"t":61232.95,"v":-0.1,"r":-0.1},
      {"t":61233.05,"v":-0.5,"r":-0.8},{"t":61233.12,"v":0.6,"r":0.1},{"t":61233.19,"v":0.3,"r":-0.4},{"t":61233.27,"v":2.0,"r":1.1},{"t":61233.34,"v":0.5,"r":-0.6},{"t":61233.41,"v":1.6,"r":0.3},{"t":61233.48,"v":1.3,"r":-0.2},{"t":61233.55,"v":0.7,"r":-1.0},{"t":61233.62,"v":2.4,"r":0.5},{"t":61233.70,"v":2.1,"r":0.0},{"t":61233.77,"v":2.0,"r":-0.3},{"t":61233.84,"v":3.2,"r":0.8},{"t":61233.91,"v":2.1,"r":-0.5},{"t":61233.98,"v":3.0,"r":0.2},
      {"t":61234.02,"v":2.9,"r":0.0},{"t":61234.09,"v":3.8,"r":0.8},{"t":61234.16,"v":2.0,"r":-1.1},{"t":61234.23,"v":3.4,"r":0.2},{"t":61234.30,"v":3.1,"r":-0.2},{"t":61234.38,"v":3.9,"r":0.6},{"t":61234.45,"v":2.9,"r":-0.5},{"t":61234.52,"v":3.3,"r":-0.1},{"t":61234.59,"v":4.2,"r":0.4},{"t":61234.66,"v":3.0,"r":-0.8},{"t":61234.73,"v":4.4,"r":1.0},{"t":61234.80,"v":3.2,"r":-0.3},{"t":61234.88,"v":3.3,"r":0.1},{"t":61234.95,"v":2.3,"r":-0.6},
      {"t":61235.05,"v":2.1,"r":0.1},{"t":61235.12,"v":0.3,"r":-1.2},{"t":61235.19,"v":1.6,"r":0.4},{"t":61235.27,"v":0.6,"r":-0.3},{"t":61235.34,"v":1.5,"r":0.7},{"t":61235.41,"v":0.7,"r":0.0},{"t":61235.48,"v":0.1,"r":-0.7},{"t":61235.55,"v":1.2,"r":0.3},{"t":61235.62,"v":0.8,"r":-0.4},{"t":61235.70,"v":2.4,"r":0.9},{"t":61235.77,"v":2.1,"r":0.2},{"t":61235.84,"v":1.3,"r":-0.9},{"t":61235.91,"v":2.3,"r":-0.2},{"t":61235.93,"v":3.1,"r":0.6},
      {"t":61236.10,"v":4.2,"r":0.3},{"t":61236.14,"v":4.0,"r":-0.2},{"t":61236.16,"v":5.0,"r":0.6},{"t":61236.23,"v":3.9,"r":-0.9},{"t":61236.30,"v":5.2,"r":0.2},{"t":61236.38,"v":4.8,"r":-0.3},{"t":61236.45,"v":4.5,"r":-0.6},{"t":61236.52,"v":6.3,"r":1.2},{"t":61236.59,"v":5.0,"r":-0.1},{"t":61236.66,"v":5.5,"r":0.4},{"t":61236.73,"v":4.4,"r":-0.7},{"t":61236.80,"v":5.2,"r":0.0},{"t":61236.88,"v":6.1,"r":0.9},{"t":61236.95,"v":4.8,"r":-0.4},
      {"t":61237.05,"v":4.8,"r":-0.5},{"t":61237.12,"v":5.7,"r":0.4},{"t":61237.19,"v":4.4,"r":-0.9},{"t":61237.27,"v":6.0,"r":0.7},{"t":61237.34,"v":5.3,"r":0.0},{"t":61237.41,"v":4.9,"r":-0.4},{"t":61237.48,"v":5.6,"r":0.3},{"t":61237.55,"v":5.6,"r":0.1},{"t":61237.62,"v":5.2,"r":-0.3},{"t":61237.70,"v":6.1,"r":0.6},{"t":61237.77,"v":4.8,"r":-0.7},{"t":61237.84,"v":5.7,"r":0.2},{"t":61237.91,"v":6.4,"r":0.9},{"t":61237.98,"v":5.4,"r":-0.1},
      {"t":61238.02,"v":5.8,"r":0.2},{"t":61238.09,"v":5.3,"r":-0.3},{"t":61238.16,"v":6.2,"r":0.6},{"t":61238.23,"v":4.5,"r":-1.1},{"t":61238.30,"v":6.0,"r":0.4},{"t":61238.38,"v":5.5,"r":-0.1},{"t":61238.45,"v":6.4,"r":0.8},{"t":61238.52,"v":5.6,"r":-0.2},{"t":61238.59,"v":6.3,"r":0.5},{"t":61238.66,"v":5.0,"r":-0.8},{"t":61238.73,"v":6.1,"r":0.3},{"t":61238.80,"v":5.8,"r":0.0},{"t":61238.88,"v":5.3,"r":-0.5},{"t":61238.95,"v":6.8,"r":1.0},
      {"t":61239.05,"v":6.5,"r":0.5},{"t":61239.12,"v":5.4,"r":-0.6},{"t":61239.19,"v":6.2,"r":0.2},{"t":61239.27,"v":5.8,"r":-0.2},{"t":61239.34,"v":7.1,"r":1.1},{"t":61239.41,"v":5.2,"r":-0.8},{"t":61239.48,"v":6.0,"r":0.0},{"t":61239.55,"v":6.8,"r":0.6},{"t":61239.62,"v":6.1,"r":-0.1},{"t":61239.70,"v":6.5,"r":0.3},{"t":61239.77,"v":5.2,"r":-1.0},{"t":61239.84,"v":7.0,"r":0.8},{"t":61239.91,"v":5.8,"r":-0.4},{"t":61239.98,"v":6.3,"r":0.1},
      {"t":61240.02,"v":7.0,"r":0.7},{"t":61240.09,"v":6.3,"r":0.0},{"t":61240.16,"v":5.6,"r":-0.7},{"t":61240.23,"v":6.6,"r":0.3},{"t":61240.30,"v":5.9,"r":-0.4},{"t":61240.38,"v":7.5,"r":1.2},{"t":61240.45,"v":6.2,"r":-0.1},{"t":61240.52,"v":5.8,"r":-0.6},{"t":61240.59,"v":6.6,"r":0.2},{"t":61240.66,"v":7.3,"r":0.9},{"t":61240.73,"v":6.2,"r":-0.2},{"t":61240.80,"v":5.5,"r":-0.9},{"t":61240.88,"v":6.8,"r":0.4},{"t":61240.95,"v":6.1,"r":-0.3},
      {"t":61241.05,"v":7.1,"r":0.6},{"t":61241.12,"v":6.8,"r":0.3},{"t":61241.19,"v":6.3,"r":-0.2},{"t":61241.27,"v":7.4,"r":0.9},{"t":61241.34,"v":5.9,"r":-0.6},{"t":61241.41,"v":6.7,"r":0.2},{"t":61241.48,"v":6.2,"r":-0.3},{"t":61241.55,"v":6.9,"r":0.4},{"t":61241.62,"v":5.6,"r":-0.9},{"t":61241.70,"v":6.5,"r":0.0},{"t":61241.77,"v":7.2,"r":0.7},{"t":61241.84,"v":6.1,"r":-0.4},{"t":61241.91,"v":6.6,"r":0.1},{"t":61241.98,"v":5.3,"r":-1.2},
      {"t":61242.02,"v":6.4,"r":-0.1},{"t":61242.09,"v":7.4,"r":0.9},{"t":61242.16,"v":6.7,"r":0.2},{"t":61242.23,"v":5.8,"r":-0.7},{"t":61242.30,"v":7.1,"r":0.6},{"t":61242.38,"v":6.2,"r":-0.3},{"t":61242.45,"v":6.6,"r":0.1},{"t":61242.52,"v":6.8,"r":0.3},{"t":61242.59,"v":6.1,"r":-0.4},{"t":61242.66,"v":6.5,"r":0.0},{"t":61242.73,"v":7.2,"r":0.7},{"t":61242.80,"v":5.6,"r":-0.9},{"t":61242.88,"v":6.8,"r":0.4},{"t":61242.95,"v":5.7,"r":-0.5},
      {"t":61243.05,"v":7.0,"r":1.0},{"t":61243.12,"v":5.4,"r":-0.5},{"t":61243.19,"v":5.8,"r":0.0},{"t":61243.27,"v":6.1,"r":0.3},{"t":61243.34,"v":5.0,"r":-0.8},{"t":61243.41,"v":6.4,"r":0.5},{"t":61243.48,"v":5.8,"r":-0.2},{"t":61243.55,"v":6.8,"r":0.8},{"t":61243.62,"v":5.9,"r":-0.1},{"t":61243.70,"v":6.3,"r":0.4},{"t":61243.77,"v":4.8,"r":-1.1},{"t":61243.84,"v":6.4,"r":0.6},{"t":61243.91,"v":5.5,"r":-0.3},{"t":61243.98,"v":6.0,"r":0.2},
      {"t":61244.02,"v":5.9,"r":0.1},{"t":61244.09,"v":5.3,"r":-0.4},{"t":61244.16,"v":6.5,"r":0.8},{"t":61244.23,"v":4.6,"r":-1.0},{"t":61244.30,"v":5.8,"r":0.3},{"t":61244.38,"v":5.3,"r":-0.1},{"t":61244.45,"v":6.0,"r":0.6},{"t":61244.52,"v":5.3,"r":0.0},{"t":61244.59,"v":4.4,"r":-0.8},{"t":61244.66,"v":6.3,"r":1.1},{"t":61244.73,"v":4.9,"r":-0.2},{"t":61244.80,"v":5.3,"r":0.2},{"t":61244.88,"v":4.4,"r":-0.6},{"t":61244.95,"v":5.4,"r":0.5},
      {"t":61245.05,"v":4.5,"r":-0.3},{"t":61245.12,"v":5.1,"r":0.4},{"t":61245.19,"v":3.7,"r":-0.9},{"t":61245.27,"v":4.3,"r":-0.2},{"t":61245.34,"v":5.4,"r":0.9},{"t":61245.41,"v":4.7,"r":0.2},{"t":61245.48,"v":4.0,"r":-0.6},{"t":61245.55,"v":4.5,"r":-0.1},{"t":61245.62,"v":5.8,"r":1.2},{"t":61245.70,"v":4.2,"r":-0.4},{"t":61245.77,"v":4.9,"r":0.3},{"t":61245.84,"v":3.9,"r":-0.7},{"t":61245.91,"v":4.5,"r":0.0},{"t":61245.98,"v":5.0,"r":0.7},
      {"t":61246.02,"v":3.1,"r":-1.2},{"t":61246.09,"v":4.3,"r":0.1},{"t":61246.16,"v":3.7,"r":-0.4},{"t":61246.23,"v":4.7,"r":0.7},{"t":61246.30,"v":3.9,"r":0.0},{"t":61246.38,"v":3.0,"r":-0.9},{"t":61246.45,"v":4.3,"r":0.4},{"t":61246.52,"v":3.5,"r":-0.3},{"t":61246.59,"v":4.0,"r":0.2},{"t":61246.66,"v":3.2,"r":-0.6},{"t":61246.73,"v":4.6,"r":0.9},{"t":61246.80,"v":3.4,"r":-0.2},{"t":61246.88,"v":3.8,"r":0.3},{"t":61246.95,"v":4.0,"r":0.6},
      {"t":61247.05,"v":3.8,"r":0.5},{"t":61247.12,"v":2.8,"r":-0.4},{"t":61247.19,"v":4.0,"r":0.9},{"t":61247.27,"v":2.3,"r":-0.7},{"t":61247.34,"v":2.9,"r":0.0},{"t":61247.41,"v":3.3,"r":0.4},{"t":61247.48,"v":2.5,"r":-0.3},{"t":61247.55,"v":2.6,"r":-0.1},{"t":61247.62,"v":3.0,"r":0.3},{"t":61247.70,"v":2.0,"r":-0.6},{"t":61247.77,"v":3.3,"r":0.7},{"t":61247.84,"v":2.3,"r":-0.2},{"t":61247.91,"v":1.6,"r":-0.9},{"t":61247.98,"v":2.5,"r":0.1},
      {"t":61248.02,"v":2.2,"r":-0.2},{"t":61248.09,"v":2.6,"r":0.3},{"t":61248.16,"v":1.7,"r":-0.6},{"t":61248.23,"v":3.3,"r":1.1},{"t":61248.30,"v":1.7,"r":-0.4},{"t":61248.38,"v":2.1,"r":0.1},{"t":61248.45,"v":1.2,"r":-0.8},{"t":61248.52,"v":2.1,"r":0.2},{"t":61248.59,"v":1.3,"r":-0.5},{"t":61248.66,"v":2.6,"r":0.8},{"t":61248.73,"v":1.4,"r":-0.3},{"t":61248.80,"v":1.6,"r":0.0},{"t":61248.88,"v":2.0,"r":0.5},{"t":61248.95,"v":0.5,"r":-1.0},
      {"t":61249.05,"v":0.9,"r":-0.5},{"t":61249.12,"v":1.9,"r":0.6},{"t":61249.19,"v":1.0,"r":-0.2},{"t":61249.27,"v":1.3,"r":0.2},{"t":61249.34,"v":-0.1,"r":-1.1},{"t":61249.41,"v":1.7,"r":0.8},{"t":61249.48,"v":0.9,"r":0.0},{"t":61249.55,"v":0.1,"r":-0.6},{"t":61249.62,"v":0.7,"r":0.1},{"t":61249.70,"v":0.1,"r":-0.3},{"t":61249.77,"v":1.3,"r":1.0},{"t":61249.84,"v":-0.7,"r":-0.8},{"t":61249.91,"v":0.4,"r":0.4},{"t":61249.98,"v":-0.3,"r":-0.1},
      {"t":61250.02,"v":-0.9,"r":-0.7},{"t":61250.09,"v":-0.4,"r":0.0},{"t":61250.16,"v":0.2,"r":0.7},{"t":61250.23,"v":-0.9,"r":-0.3},{"t":61250.30,"v":-0.2,"r":0.4},{"t":61250.38,"v":-1.8,"r":-1.2},{"t":61250.45,"v":-0.5,"r":0.1},{"t":61250.52,"v":0.0,"r":0.6},{"t":61250.59,"v":-0.8,"r":-0.2},{"t":61250.66,"v":-1.5,"r":-0.9},{"t":61250.73,"v":-0.4,"r":0.2},{"t":61250.80,"v":0.3,"r":0.9},{"t":61250.88,"v":-1.1,"r":-0.4},{"t":61250.95,"v":-0.5,"r":0.3}
    ],
    "smooth": [
      {"t":61217.0,"v":-6.29,"s":1},{"t":61217.86,"v":-6.34,"s":1},{"t":61218.4,"v":-6.6,"s":1},{"t":61218.88,"v":-6.65,"s":1},{"t":61219.72,"v":-6.56,"s":1},{"t":61220.2,"v":-6.79,"s":1},{"t":61220.57,"v":-6.67,"s":1},{"t":61220.81,"v":-6.52,"s":1},{"t":61221.29,"v":-6.64,"s":1},{"t":61221.77,"v":-6.82,"s":1},{"t":61222.13,"v":-7.01,"s":1},{"t":61222.37,"v":-7.19,"s":1},{"t":61222.61,"v":-7.04,"s":1},{"t":61222.92,"v":-6.85,"s":1},{"t":61223.16,"v":-7.04,"s":1},{"t":61223.46,"v":-7.55,"s":1},{"t":61223.7,"v":-7.25,"s":1},{"t":61224.18,"v":-7.1,"s":1},{"t":61224.54,"v":-7.25,"s":1},{"t":61225.14,"v":-7.37,"s":1},{"t":61225.63,"v":-7.37,"s":1},{"t":61226.23,"v":-7.25,"s":1},{"t":61226.83,"v":-7.17,"s":1},{"t":61227.31,"v":-7.17,"s":1},{"t":61227.67,"v":-6.88,"s":1},{"t":61227.92,"v":-6.36,"s":1},{"t":61228.4,"v":-6.14,"s":1},{"t":61228.64,"v":-5.77,"s":1},{"t":61228.94,"v":-5.33,"s":1},{"t":61229.24,"v":-5.03,"s":1},{"t":61229.48,"v":-4.51,"s":1},{"t":61229.72,"v":-4.14,"s":1},{"t":61229.9,"v":-4.28,"s":1},{"t":61229.99,"v":-4.66,"s":1},
      {"t":61230.14,"v":-5.18,"s":2},{"t":61230.33,"v":-5.7,"s":2},{"t":61230.51,"v":-5.48,"s":2},{"t":61230.75,"v":-4.96,"s":2},{"t":61230.93,"v":-4.3,"s":2},{"t":61231.17,"v":-3.85,"s":2},{"t":61231.53,"v":-3.19,"s":2},{"t":61231.89,"v":-2.52,"s":2},{"t":61232.19,"v":-1.78,"s":2},{"t":61232.49,"v":-1.04,"s":2},{"t":61232.8,"v":-0.15,"s":2},{"t":61233.0,"v":0.2,"s":2},{"t":61233.3,"v":1.1,"s":2},{"t":61233.6,"v":1.9,"s":2},{"t":61233.9,"v":2.69,"s":2},{"t":61234.28,"v":3.23,"s":2},{"t":61234.67,"v":3.41,"s":2},{"t":61234.87,"v":2.82,"s":2},{"t":61234.96,"v":2.33,"s":2},{"t":61235.15,"v":1.3,"s":2},{"t":61235.39,"v":0.7,"s":2},{"t":61235.65,"v":1.44,"s":2},{"t":61235.92,"v":2.56,"s":2},
      {"t":61236.08,"v":3.74,"s":3},{"t":61236.24,"v":4.85,"s":3},{"t":61236.45,"v":5.12,"s":3},{"t":61236.88,"v":5.15,"s":3},{"t":61237.31,"v":5.33,"s":3},{"t":61237.74,"v":5.47,"s":3},{"t":61238.17,"v":5.55,"s":3},{"t":61238.49,"v":5.74,"s":3},{"t":61238.81,"v":5.92,"s":3},{"t":61239.02,"v":5.92,"s":3},{"t":61239.24,"v":5.85,"s":3},{"t":61239.45,"v":6.11,"s":3},{"t":61239.77,"v":6.26,"s":3},{"t":61240.2,"v":6.19,"s":3},{"t":61240.52,"v":6.33,"s":3},{"t":61240.84,"v":6.51,"s":3},{"t":61241.37,"v":6.45,"s":3},{"t":61241.8,"v":6.48,"s":3},{"t":61242.23,"v":6.41,"s":3},{"t":61242.66,"v":6.51,"s":3},{"t":61242.87,"v":6.36,"s":3},{"t":61243.09,"v":5.88,"s":3},
      {"t":61243.3,"v":5.76,"s":4},{"t":61243.62,"v":5.99,"s":4},{"t":61243.94,"v":5.81,"s":4},{"t":61244.26,"v":5.52,"s":4},{"t":61244.58,"v":5.3,"s":4},{"t":61244.9,"v":5.07,"s":4},{"t":61245.12,"v":4.63,"s":4},{"t":61245.33,"v":4.48,"s":4},{"t":61245.55,"v":4.56,"s":4},{"t":61245.87,"v":4.59,"s":4},{"t":61246.08,"v":4.26,"s":4},{"t":61246.4,"v":3.89,"s":4},{"t":61246.72,"v":3.74,"s":4},{"t":61247.04,"v":3.37,"s":4},{"t":61247.36,"v":2.93,"s":4},{"t":61247.79,"v":2.63,"s":4},{"t":61248.11,"v":2.33,"s":4},{"t":61248.54,"v":1.89,"s":4},{"t":61248.96,"v":1.44,"s":4},{"t":61249.4,"v":0.93,"s":4},{"t":61249.72,"v":0.41,"s":4},{"t":61249.93,"v":-0.04,"s":4},
      {"t":61250.14,"v":-0.49,"s":5},{"t":61250.47,"v":-0.61,"s":5},{"t":61250.73,"v":-0.56,"s":5},{"t":61250.91,"v":-0.78,"s":5}
    ],
    "tri": [
      {"t":61224,"v":-7.1,"lab":"-7.1"},{"t":61229,"v":-5.1,"lab":"-5.1"},{"t":61234,"v":2.6,"lab":"2.6"},{"t":61239,"v":5.9,"lab":"5.9"},{"t":61244,"v":5.7,"lab":"5.7"},{"t":61249,"v":1.3,"lab":"1.3"}
    ],
    "note1": [{"txt":"GPS.GPI/Tai2607__SG01-PT13/077-005#_\u00a0 2739/1_AV/L2U__CLB__________"}],
    "note2": [{"txt":"Max Smoothing Residual: 1.992_Vdk1.D5\u00a0 Sigma= 0.633ns14/55_08/04/26Mn_____-0.777"}],
    "tau": [{"txt":"τ = 1070s"}],
    "adev": [
      {"lt":3.029,"y":-12.11,"lab":"4.8"},{"lt":3.330,"y":-12.45,"lab":"341.7"},{"lt":3.631,"y":-12.78,"lab":"162.5"},{"lt":3.932,"y":-13.16,"lab":"69.6"},{"lt":4.233,"y":-13.57,"lab":"27.2"},{"lt":4.534,"y":-13.86,"lab":"13.9"},{"lt":4.835,"y":-13.97,"lab":"10.8"},{"lt":5.136,"y":-14.2,"lab":"6.3"},{"lt":5.437,"y":-14.32,"lab":"4.8"},{"lt":5.738,"y":-14.13,"lab":"7.5"}
    ],
    "tdev": [
      {"lt":3.029,"y":-9.32,"lab":"4.8"},{"lt":3.330,"y":-9.37,"lab":"4.2"},{"lt":3.631,"y":-9.39,"lab":"4.0"},{"lt":3.932,"y":-9.46,"lab":"3.4"},{"lt":4.233,"y":-9.57,"lab":"2.7"},{"lt":4.534,"y":-9.56,"lab":"2.7"},{"lt":4.835,"y":-9.37,"lab":"4.3"},{"lt":5.136,"y":-9.3,"lab":"5.0"},{"lt":5.437,"y":-9.12,"lab":"7.7"},{"lt":5.738,"y":-8.63,"lab":"23.6"}
    ],
    "spans": [
      {"lt":3.255,"lab":"h/2"},{"lt":3.556,"lab":"h"},{"lt":4.033,"lab":"d/8"},{"lt":4.334,"lab":"d/4"},{"lt":4.635,"lab":"d/2"},{"lt":4.936,"lab":"day"},{"lt":5.414,"lab":"ddd"},{"lt":5.782,"lab":"wk"}
    ]
  },
  "vconcat": [
    {
      "width": 1267,
      "height": 728,
      "title": {"text": "UTC(SG)-UTC(PTB)\u00a0 /GPS\u00a0 P3\u00a0 (SG01,PT13)", "fontSize": 35, "fontWeight": "normal", "offset": 27, "anchor": "middle"},
      "layer": [
        {
          "data": {"name": "pts"},
          "mark": {"type": "point", "shape": "M-1,-1L1,1M-1,1L1,-1", "size": 36, "filled": false, "color": "black", "strokeWidth": 1.2, "opacity": 1, "clip": true},
          "encoding": {
            "x": {"field": "t", "type": "quantitative", "scale": {"domain": [61217, 61251], "nice": false, "zero": false},
                  "axis": {"orient": "bottom", "values": [61220, 61225, 61230, 61235, 61240, 61245, 61250], "format": "d", "tickSize": 14, "labelFontSize": 30, "labelPadding": 11, "title": "Modified Julian Date", "titleFontSize": 30, "titlePadding": 1}},
            "y": {"field": "v", "type": "quantitative", "scale": {"domain": [-14, 18], "nice": false, "zero": false},
                  "axis": {"orient": "left", "values": [-10, -5, 0, 5, 10, 15], "format": "d", "tickSize": 14, "tickWidth": 2.5, "labelFontSize": 28, "labelPadding": 11, "title": "nanosecond", "titleFontSize": 29, "titlePadding": 2}}
          }
        },
        {
          "data": {"name": "smooth"},
          "mark": {"type": "line", "color": "#1e90ff", "strokeWidth": 4, "interpolate": "monotone", "clip": true},
          "encoding": {
            "x": {"field": "t", "type": "quantitative", "scale": {"domain": [61217, 61251], "nice": false, "zero": false},
                  "axis": {"orient": "bottom", "values": [61217,61218,61219,61220,61221,61222,61223,61224,61225,61226,61227,61228,61229,61230,61231,61232,61233,61234,61235,61236,61237,61238,61239,61240,61241,61242,61243,61244,61245,61246,61247,61248,61249,61250,61251], "tickSize": 7, "labels": false, "title": null}},
            "y": {"field": "v", "type": "quantitative", "scale": {"domain": [-14, 18], "nice": false, "zero": false},
                  "axis": {"orient": "right", "values": [-10, -5, 0, 5, 10, 15], "tickSize": 14, "tickWidth": 2.5, "labels": false, "title": null}},
            "detail": {"field": "s", "type": "nominal"}
          }
        },
        {
          "data": {"name": "tri"},
          "mark": {"type": "point", "shape": "triangle-up", "size": 1600, "filled": false, "color": "#ff0000", "strokeWidth": 3.5, "opacity": 1, "yOffset": -6},
          "encoding": {
            "x": {"field": "t", "type": "quantitative", "scale": {"domain": [61217, 61251], "nice": false, "zero": false},
                  "axis": {"orient": "top", "values": [61220, 61225, 61230, 61235, 61240, 61245, 61250], "tickSize": 14, "labels": false, "title": null}},
            "y": {"field": "v", "type": "quantitative", "scale": {"domain": [-14, 18], "nice": false, "zero": false}, "axis": null}
          }
        },
        {
          "data": {"name": "tri"},
          "mark": {"type": "text", "color": "#ff0000", "fontSize": 24, "fontWeight": "bold", "baseline": "middle", "dy": -102},
          "encoding": {
            "x": {"field": "t", "type": "quantitative", "scale": {"domain": [61217, 61251], "nice": false, "zero": false},
                  "axis": {"orient": "top", "values": [61217,61218,61219,61220,61221,61222,61223,61224,61225,61226,61227,61228,61229,61230,61231,61232,61233,61234,61235,61236,61237,61238,61239,61240,61241,61242,61243,61244,61245,61246,61247,61248,61249,61250,61251], "tickSize": 7, "labels": false, "title": null}},
            "y": {"field": "v", "type": "quantitative", "scale": {"domain": [-14, 18], "nice": false, "zero": false}, "axis": null},
            "text": {"field": "lab"}
          }
        },
        {
          "data": {"name": "note1"},
          "mark": {"type": "text", "align": "left", "baseline": "middle", "fontSize": 30, "fontWeight": "bold", "color": "black"},
          "encoding": {
            "x": {"datum": 61218, "type": "quantitative", "scale": {"domain": [61217, 61251], "nice": false, "zero": false}, "axis": null},
            "y": {"datum": -12.07, "type": "quantitative", "scale": {"domain": [-14, 18], "nice": false, "zero": false}, "axis": null},
            "text": {"field": "txt"}
          }
        }
      ],
      "resolve": {"axis": {"x": "independent", "y": "independent"}}
    },
    {
      "width": 1267,
      "height": 450,
      "layer": [
        {
          "data": {"name": "pts"},
          "mark": {"type": "point", "shape": "M-1,-1L1,1M-1,1L1,-1", "size": 36, "filled": false, "color": "black", "strokeWidth": 1.2, "opacity": 1, "clip": true},
          "encoding": {
            "x": {"field": "t", "type": "quantitative", "scale": {"domain": [61217, 61251], "nice": false, "zero": false},
                  "axis": {"orient": "bottom", "values": [61220, 61225, 61230, 61235, 61240, 61245, 61250], "format": "d", "tickSize": 14, "labelFontSize": 30, "labelPadding": 11, "title": "Modified Julian Date", "titleFontSize": 30, "titlePadding": 1}},
            "y": {"field": "r", "type": "quantitative", "scale": {"domain": [-2.5, 2.5], "nice": false, "zero": false},
                  "axis": {"orient": "left", "values": [-2, -1.5, -1, -0.5, 0, 0.5, 1, 1.5, 2], "format": ".1f", "tickSize": 14, "tickWidth": 2.5, "labelFontSize": 28, "labelPadding": 11, "title": "residuals (ns)", "titleFontSize": 29, "titlePadding": 2}}
          }
        },
        {
          "data": {"name": "note2"},
          "mark": {"type": "text", "align": "left", "baseline": "middle", "fontSize": 25, "fontWeight": "bold", "color": "black"},
          "encoding": {
            "x": {"datum": 61218, "type": "quantitative", "scale": {"domain": [61217, 61251], "nice": false, "zero": false},
                  "axis": {"orient": "bottom", "values": [61217,61218,61219,61220,61221,61222,61223,61224,61225,61226,61227,61228,61229,61230,61231,61232,61233,61234,61235,61236,61237,61238,61239,61240,61241,61242,61243,61244,61245,61246,61247,61248,61249,61250,61251], "tickSize": 7, "labels": false, "title": null}},
            "y": {"datum": -2.17, "type": "quantitative", "scale": {"domain": [-2.5, 2.5], "nice": false, "zero": false},
                  "axis": {"orient": "right", "values": [-2, -1.5, -1, -0.5, 0, 0.5, 1, 1.5, 2], "tickSize": 14, "tickWidth": 2.5, "labels": false, "title": null}},
            "text": {"field": "txt"}
          }
        },
        {
          "data": {"name": "note2"},
          "mark": {"type": "text", "align": "left", "baseline": "middle", "fontSize": 25, "fontWeight": "bold", "opacity": 0},
          "encoding": {
            "x": {"datum": 61218, "type": "quantitative", "scale": {"domain": [61217, 61251], "nice": false, "zero": false},
                  "axis": {"orient": "top", "values": [61220, 61225, 61230, 61235, 61240, 61245, 61250], "tickSize": 14, "labels": false, "title": null}},
            "y": {"datum": -2.17, "type": "quantitative", "scale": {"domain": [-2.5, 2.5], "nice": false, "zero": false}, "axis": null},
            "text": {"field": "txt"}
          }
        },
        {
          "data": {"name": "note2"},
          "mark": {"type": "text", "align": "left", "baseline": "middle", "fontSize": 25, "fontWeight": "bold", "opacity": 0},
          "encoding": {
            "x": {"datum": 61218, "type": "quantitative", "scale": {"domain": [61217, 61251], "nice": false, "zero": false},
                  "axis": {"orient": "top", "values": [61217,61218,61219,61220,61221,61222,61223,61224,61225,61226,61227,61228,61229,61230,61231,61232,61233,61234,61235,61236,61237,61238,61239,61240,61241,61242,61243,61244,61245,61246,61247,61248,61249,61250,61251], "tickSize": 7, "labels": false, "title": null}},
            "y": {"datum": -2.17, "type": "quantitative", "scale": {"domain": [-2.5, 2.5], "nice": false, "zero": false}, "axis": null},
            "text": {"field": "txt"}
          }
        }
      ],
      "resolve": {"axis": {"x": "independent", "y": "independent"}}
    },
    {
      "bounds": "flush",
      "spacing": 144,
      "hconcat": [
        {
          "width": 546,
          "height": 451,
          "layer": [
            {
              "data": {"name": "adev"},
              "mark": {"type": "circle", "size": 115, "color": "black", "opacity": 1},
              "encoding": {
                "x": {"field": "lt", "type": "quantitative", "scale": {"domain": [3, 6], "nice": false, "zero": false},
                      "axis": {"orient": "bottom", "values": [3, 4, 5, 6], "format": "d", "tickSize": 15, "labelFontSize": 32, "labelPadding": 9, "title": "Averaging time, log(τ) (s)", "titleFontSize": 31, "titlePadding": 3}},
                "y": {"field": "y", "type": "quantitative", "scale": {"domain": [-15.5, -11.5], "nice": false, "zero": false},
                      "axis": {"orient": "left", "values": [-15, -14, -13, -12], "format": "d", "tickSize": 13, "labelFontSize": 28, "labelPadding": 12, "title": "Modified Allan Deviation (10⁻¹⁵)", "titleFontSize": 30, "titlePadding": 3}}
              }
            },
            {
              "data": {"name": "adev"},
              "mark": {"type": "text", "color": "#ff0000", "fontSize": 20, "fontWeight": "bold", "baseline": "middle", "dy": -18, "clip": true},
              "encoding": {
                "x": {"field": "lt", "type": "quantitative", "scale": {"domain": [3, 6], "nice": false, "zero": false},
                      "axis": {"orient": "bottom", "values": [3.5, 4.5, 5.5], "tickSize": 7, "labels": false, "title": null}},
                "y": {"field": "y", "type": "quantitative", "scale": {"domain": [-15.5, -11.5], "nice": false, "zero": false},
                      "axis": {"orient": "left", "values": [-15.5, -14.5, -13.5, -12.5, -11.5], "tickSize": 7, "labels": false, "title": null}},
                "text": {"field": "lab"}
              }
            },
            {
              "data": {"name": "spans"},
              "mark": {"type": "circle", "size": 50, "color": "black", "opacity": 1, "clip": true},
              "encoding": {
                "x": {"field": "lt", "type": "quantitative", "scale": {"domain": [3, 6], "nice": false, "zero": false},
                      "axis": {"orient": "top", "values": [3, 4, 5, 6], "tickSize": 15, "labels": false, "title": null}},
                "y": {"datum": -15.5, "type": "quantitative", "scale": {"domain": [-15.5, -11.5], "nice": false, "zero": false},
                      "axis": {"orient": "right", "values": [-15, -14, -13, -12], "tickSize": 13, "labels": false, "title": null}}
              }
            },
            {
              "data": {"name": "spans"},
              "mark": {"type": "text", "color": "#ff0000", "fontSize": 20, "fontWeight": "bold", "baseline": "middle", "dy": -18},
              "encoding": {
                "x": {"field": "lt", "type": "quantitative", "scale": {"domain": [3, 6], "nice": false, "zero": false},
                      "axis": {"orient": "top", "values": [3.5, 4.5, 5.5], "tickSize": 7, "labels": false, "title": null}},
                "y": {"datum": -15.5, "type": "quantitative", "scale": {"domain": [-15.5, -11.5], "nice": false, "zero": false},
                      "axis": {"orient": "right", "values": [-15.5, -14.5, -13.5, -12.5, -11.5], "tickSize": 7, "labels": false, "title": null}},
                "text": {"field": "lab"}
              }
            },
            {
              "data": {"name": "tau"},
              "mark": {"type": "text", "fontSize": 17, "fontWeight": "bold", "color": "black", "baseline": "middle"},
              "encoding": {
                "x": {"datum": 3.46, "type": "quantitative", "scale": {"domain": [3, 6], "nice": false, "zero": false}, "axis": null},
                "y": {"datum": -11.77, "type": "quantitative", "scale": {"domain": [-15.5, -11.5], "nice": false, "zero": false}, "axis": null},
                "text": {"field": "txt"}
              }
            }
          ],
          "resolve": {"axis": {"x": "independent", "y": "independent"}}
        },
        {
          "width": 538,
          "height": 451,
          "layer": [
            {
              "data": {"name": "tdev"},
              "mark": {"type": "circle", "size": 115, "color": "black", "opacity": 1},
              "encoding": {
                "x": {"field": "lt", "type": "quantitative", "scale": {"domain": [2.75, 6], "nice": false, "zero": false},
                      "axis": {"orient": "bottom", "values": [3, 4, 5, 6], "format": "d", "tickSize": 15, "labelFontSize": 32, "labelPadding": 9, "title": "Averaging time, log(τ) (s)", "titleFontSize": 31, "titlePadding": 3}},
                "y": {"field": "y", "type": "quantitative", "scale": {"domain": [-10, -7.5], "nice": false, "zero": false},
                      "axis": {"orient": "left", "values": [-10, -9, -8], "format": "d", "tickSize": 13, "labelFontSize": 28, "labelPadding": 12, "title": "Time deviation (10⁻¹⁰ s)", "titleFontSize": 30, "titlePadding": 3}}
              }
            },
            {
              "data": {"name": "tdev"},
              "mark": {"type": "text", "color": "#ff0000", "fontSize": 18, "fontWeight": "bold", "baseline": "middle", "dy": -22, "clip": true},
              "encoding": {
                "x": {"field": "lt", "type": "quantitative", "scale": {"domain": [2.75, 6], "nice": false, "zero": false},
                      "axis": {"orient": "bottom", "values": [3.5, 4.5, 5.5], "tickSize": 7, "labels": false, "title": null}},
                "y": {"field": "y", "type": "quantitative", "scale": {"domain": [-10, -7.5], "nice": false, "zero": false},
                      "axis": {"orient": "left", "values": [-9.5, -8.5, -7.5], "tickSize": 7, "labels": false, "title": null}},
                "text": {"field": "lab"}
              }
            },
            {
              "data": {"name": "spans"},
              "mark": {"type": "circle", "size": 130, "color": "black", "opacity": 1, "clip": true},
              "encoding": {
                "x": {"field": "lt", "type": "quantitative", "scale": {"domain": [2.75, 6], "nice": false, "zero": false},
                      "axis": {"orient": "top", "values": [3, 4, 5, 6], "tickSize": 15, "labels": false, "title": null}},
                "y": {"datum": -10, "type": "quantitative", "scale": {"domain": [-10, -7.5], "nice": false, "zero": false},
                      "axis": {"orient": "right", "values": [-10, -9, -8], "tickSize": 13, "labels": false, "title": null}}
              }
            },
            {
              "data": {"name": "spans"},
              "mark": {"type": "text", "color": "#ff0000", "fontSize": 20, "fontWeight": "bold", "baseline": "middle", "dy": -24},
              "encoding": {
                "x": {"field": "lt", "type": "quantitative", "scale": {"domain": [2.75, 6], "nice": false, "zero": false},
                      "axis": {"orient": "top", "values": [3.5, 4.5, 5.5], "tickSize": 7, "labels": false, "title": null}},
                "y": {"datum": -10, "type": "quantitative", "scale": {"domain": [-10, -7.5], "nice": false, "zero": false},
                      "axis": {"orient": "right", "values": [-9.5, -8.5, -7.5], "tickSize": 7, "labels": false, "title": null}},
                "text": {"field": "lab"}
              }
            }
          ],
          "resolve": {"axis": {"x": "independent", "y": "independent"}}
        }
      ]
    }
  ]
}
